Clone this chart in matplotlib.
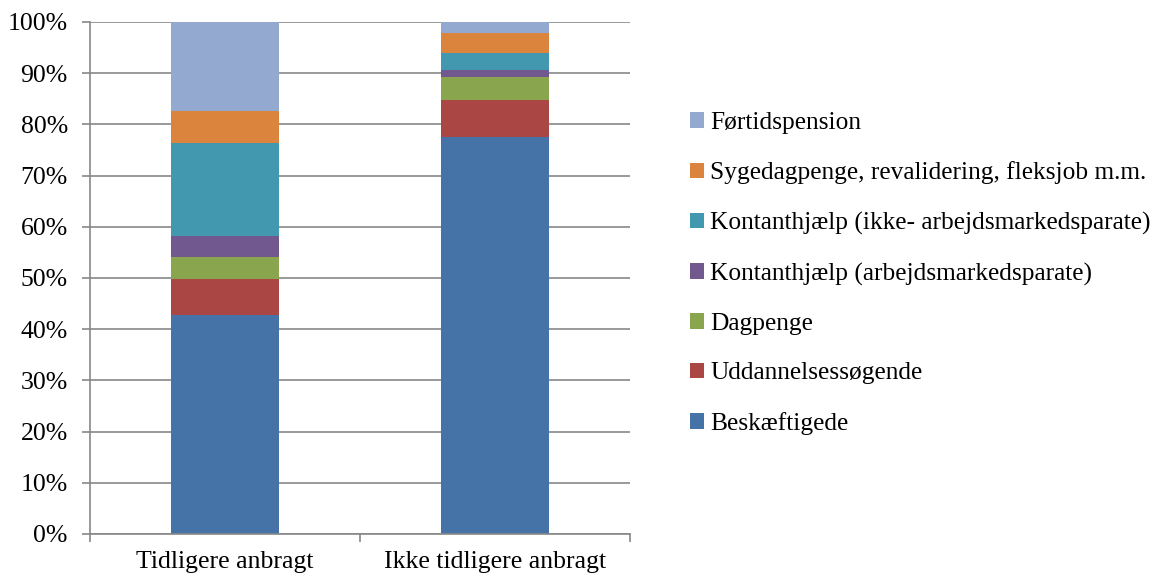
import matplotlib
matplotlib.use("Agg")
import matplotlib.pyplot as plt
import numpy as np
from matplotlib.patches import Patch

plt.rcParams["font.family"] = ["Liberation Serif", "DejaVu Serif"]

categories = ["Tidligere anbragt", "Ikke tidligere anbragt"]
series_names = [
    "Beskæftigede",
    "Uddannelsessøgende",
    "Dagpenge",
    "Kontanthjælp (arbejdsmarkedsparate)",
    "Kontanthjælp (ikke- arbejdsmarkedsparate)",
    "Sygedagpenge, revalidering, fleksjob m.m.",
    "Førtidspension",
]
# andele i procent, (tidligere anbragt, ikke tidligere anbragt)
beskaeftigede = [42.8, 77.5]
uddannelse = [7.1, 7.3]
dagpenge = [4.2, 4.4]
kont_arb = [4.2, 1.4]
kont_ikke = [18.1, 3.4]
sygedagpenge = [6.2, 3.9]
foertid = [17.4, 2.1]

colors = ["#4572A7", "#AA4643", "#89A54E", "#71588F", "#4198AF", "#DB843D", "#93A9CF"]
grid_col = "#878787"

values = [beskaeftigede, uddannelse, dagpenge, kont_arb, kont_ikke, sygedagpenge, foertid]

fig = plt.figure(figsize=(11.57, 5.78), dpi=100)
ax = fig.add_axes([90 / 1157, 44 / 578, 540 / 1157, 512 / 578])

x = np.arange(len(categories))
bottom = np.zeros(len(categories))
for vals, col, name in zip(values, colors, series_names):
    ax.bar(x, vals, width=0.4, bottom=bottom, color=col, label=name, zorder=3)
    bottom += np.array(vals)

ax.set_xlim(-0.5, 1.5)
ax.set_ylim(0, 100)
ax.set_yticks(np.arange(0, 101, 10))
ax.set_yticklabels([f"{v}%" for v in range(0, 101, 10)])
ax.grid(axis="y", color=grid_col, linewidth=1.2, zorder=0)

ax.set_xticks(x)
ax.set_xticklabels(categories)
ax.set_xticks([-0.5, 0.5, 1.5], minor=True)
ax.tick_params(axis="x", which="major", length=0, pad=12, labelsize=18.5)
ax.tick_params(axis="x", which="minor", length=6, width=1.2, color=grid_col)
ax.tick_params(axis="y", length=6, width=1.2, color=grid_col, pad=10, labelsize=18.5)

for s in ["top", "right"]:
    ax.spines[s].set_visible(False)
for s in ["left", "bottom"]:
    ax.spines[s].set_color(grid_col)
    ax.spines[s].set_linewidth(1.2)
    ax.spines[s].set_zorder(4)

handles = [Patch(facecolor=c, edgecolor="none") for c in colors][::-1]
labels = series_names[::-1]
fig.legend(handles, labels, loc="upper left", bbox_to_anchor=(690 / 1157, 1 - 112 / 578),
           frameon=False, fontsize=18.3, handlelength=0.55, handleheight=0.55,
           handletextpad=0.25, labelspacing=1.08, borderpad=0, borderaxespad=0)

fig.savefig("out.png", dpi=100)
